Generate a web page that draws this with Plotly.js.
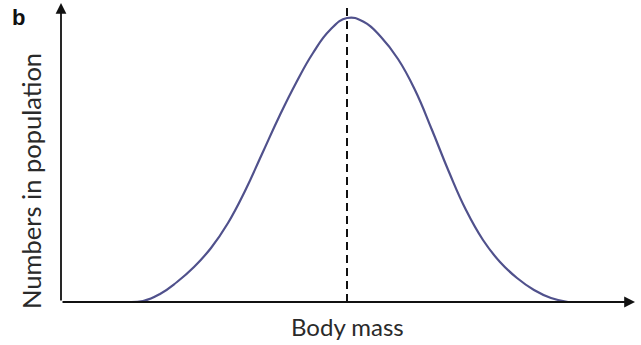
<!DOCTYPE html>
<html>
<head>
<meta charset="utf-8">
<script src="https://cdn.plot.ly/plotly-3.0.1.min.js"></script>
<style>
  html, body { margin: 0; padding: 0; background: #fff; }
  #chart { width: 641px; height: 345px; }
</style>
</head>
<body>
<div id="chart"></div>
<script>
// Body mass (arbitrary units) and numbers in the population at each mass
const bodyMass = [65, 82, 99, 116, 133, 150, 167, 184, 201, 218, 235, 252, 269, 286,
                  303, 320, 337, 354, 371, 388, 405, 422, 439, 456, 473, 490, 507];
const numbers  = [0, 1, 8, 20, 35, 54, 79, 111, 148, 185, 219, 249, 272, 284,
                  280, 265, 243, 212, 172, 130, 92, 62, 40, 24, 12, 4, 0];

// Mean body mass, marked by the dashed line
const meanMass = 286;

// Axis extents
const xMax = 574;
const yMax = 299;

const panelLabel = 'b';
const xTitle = 'Body mass';
const yTitle = 'Numbers in population';

const curve = {
  x: bodyMass,
  y: numbers,
  mode: 'lines',
  type: 'scatter',
  line: { color: '#50518c', width: 2.2, shape: 'spline', smoothing: 1.3 },
  hoverinfo: 'skip'
};

const layout = {
  width: 641,
  height: 345,
  margin: { l: 61, r: 6, t: 3, b: 43 },
  paper_bgcolor: '#ffffff',
  plot_bgcolor: '#ffffff',
  showlegend: false,
  xaxis: { range: [0, xMax], visible: false, fixedrange: true },
  yaxis: { range: [0, yMax], visible: false, fixedrange: true },
  shapes: [
    {
      type: 'line', xref: 'x', yref: 'y',
      x0: meanMass, x1: meanMass, y0: 0, y1: yMax - 1,
      line: { color: '#111', width: 2, dash: '8px,5px' }
    }
  ],
  annotations: [
    // x axis with arrow
    {
      xref: 'x', yref: 'y', x: xMax, y: 0, ax: 0, ay: 0,
      axref: 'x', ayref: 'y', text: '', showarrow: true,
      arrowhead: 2, arrowsize: 1.2, arrowwidth: 1.8, arrowcolor: '#111'
    },
    // y axis with arrow
    {
      xref: 'x', yref: 'y', x: 0, y: yMax, ax: 0, ay: 0,
      axref: 'x', ayref: 'y', text: '', showarrow: true,
      arrowhead: 2, arrowsize: 1.2, arrowwidth: 1.8, arrowcolor: '#111'
    },
    {
      xref: 'paper', yref: 'paper', x: 0.5, y: 0, xshift: -1, yshift: -24,
      xanchor: 'center', yanchor: 'middle', showarrow: false,
      text: xTitle,
      font: { family: 'Lato, sans-serif', size: 24, color: '#2a2a2a' }
    },
    {
      xref: 'paper', yref: 'paper', x: 0, y: 0.405, xshift: -30,
      xanchor: 'center', yanchor: 'middle', showarrow: false, textangle: -90,
      text: yTitle,
      font: { family: 'Lato, sans-serif', size: 25.5, color: '#2a2a2a' }
    },
    {
      xref: 'paper', yref: 'paper', x: 0, y: 1, xshift: -43, yshift: -14,
      xanchor: 'center', yanchor: 'middle', showarrow: false,
      text: '<b>' + panelLabel + '</b>',
      font: { family: 'Liberation Sans, Arial, sans-serif', size: 22, color: '#111' }
    }
  ]
};

Plotly.newPlot('chart', [curve], layout, { staticPlot: true, displayModeBar: false });
</script>
</body>
</html>
